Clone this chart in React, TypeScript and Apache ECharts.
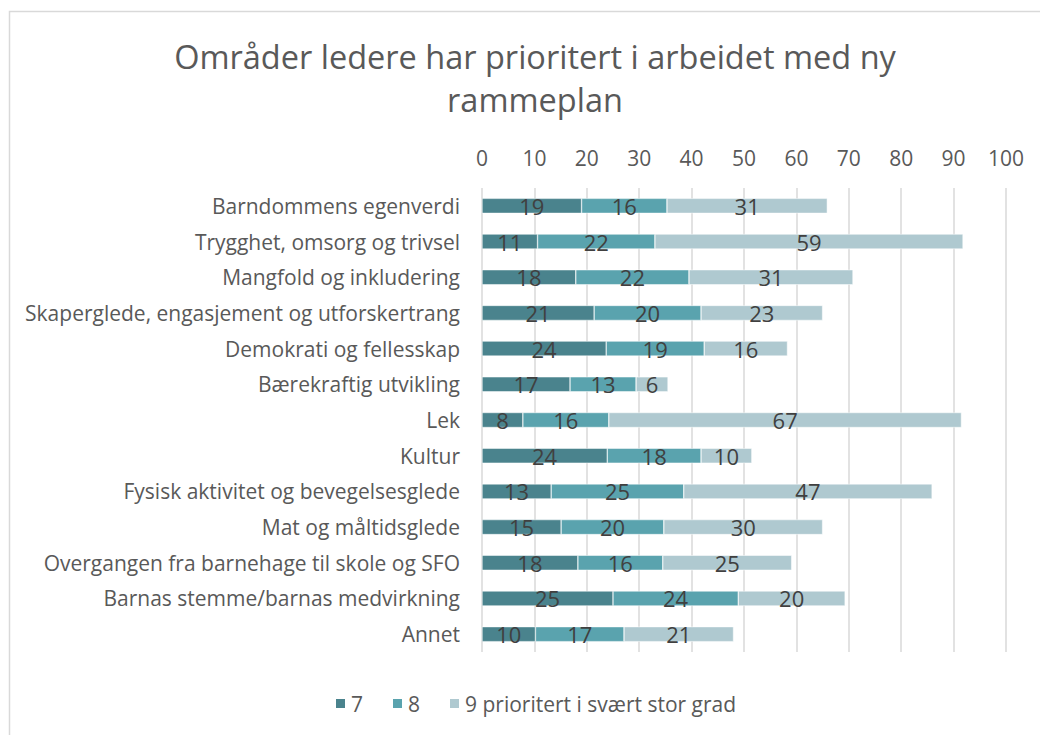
import React, { useEffect, useRef } from "react";
import * as echarts from "echarts";

const categories = [
  "Barndommens egenverdi",
  "Trygghet, omsorg og trivsel",
  "Mangfold og inkludering",
  "Skaperglede, engasjement og utforskertrang",
  "Demokrati og fellesskap",
  "Bærekraftig utvikling",
  "Lek",
  "Kultur",
  "Fysisk aktivitet og bevegelsesglede",
  "Mat og måltidsglede",
  "Overgangen fra barnehage til skole og SFO",
  "Barnas stemme/barnas medvirkning",
  "Annet",
];

const seriesNames = ["7", "8", "9 prioritert i svært stor grad"];

const values7 = [19.0, 10.6, 17.9, 21.4, 23.7, 16.8, 7.8, 23.9, 13.2, 15.1, 18.3, 25.0, 10.2];
const values8 = [16.3, 22.4, 21.6, 20.4, 18.7, 12.6, 16.4, 17.9, 25.3, 19.6, 16.2, 23.9, 16.9];
const values9 = [30.6, 58.8, 31.3, 23.2, 15.9, 6.1, 67.3, 9.7, 47.4, 30.3, 24.6, 20.4, 20.9];

const colors = ["#4A838D", "#5AA3AE", "#AFC9D0"];

const FONT = "'Open Sans', 'Noto Sans', sans-serif";

export default function App() {
  const ref = useRef<HTMLDivElement>(null);

  useEffect(() => {
    if (!ref.current) return;
    const chart = echarts.init(ref.current, undefined, { renderer: "svg" });
    const allValues = [values7, values8, values9];
    chart.setOption({
      animation: false,
      backgroundColor: "#ffffff",
      textStyle: { fontFamily: FONT },
      title: {
        text: "Områder ledere har prioritert i arbeidet med ny\nrammeplan",
        left: 530,
        top: 30,
        textAlign: "center",
        textStyle: {
          fontFamily: FONT,
          fontSize: 32.5,
          fontWeight: "normal",
          color: "#595959",
          lineHeight: 43,
        },
      },
      graphic: [
        {
          type: "rect",
          shape: { x: 9.5, y: 11.5, width: 1100, height: 800 },
          style: { fill: "none", stroke: "#D9D9D9", lineWidth: 1.5 },
          silent: true,
          z: -1,
        },
      ],
      legend: {
        bottom: 16,
        left: 329,
        itemWidth: 11,
        itemHeight: 11,
        itemGap: 28,
        icon: "rect",
        textStyle: { fontFamily: FONT, fontSize: 21, color: "#595959" },
        data: seriesNames,
      },
      grid: { left: 482, right: 34, top: 188, bottom: 83, containLabel: false },
      xAxis: {
        type: "value",
        position: "top",
        min: 0,
        max: 100,
        interval: 10,
        axisLine: { show: false },
        axisTick: { show: false },
        axisLabel: { fontFamily: FONT, fontSize: 21, color: "#595959", margin: 20 },
        splitLine: { lineStyle: { color: "#D9D9D9", width: 1.5 } },
      },
      yAxis: {
        type: "category",
        inverse: true,
        data: categories,
        axisLine: { show: false },
        axisTick: { show: false },
        axisLabel: { fontFamily: FONT, fontSize: 21, color: "#595959", margin: 22 },
      },
      series: seriesNames.map((name, i) => ({
        name,
        type: "bar",
        stack: "total",
        barWidth: 15,
        data: allValues[i],
        itemStyle: { color: colors[i], borderColor: "#ffffff", borderWidth: 0.5 },
        label: {
          show: true,
          position: "inside",
          fontFamily: FONT,
          fontSize: 22,
          color: "#404040",
          formatter: (p: any) => String(Math.round(p.value)),
        },
      })),
    });
    return () => chart.dispose();
  }, []);

  return (
    <div
      ref={ref}
      style={{ position: "absolute", left: 0, top: 0, width: 1040, height: 735 }}
    />
  );
}
